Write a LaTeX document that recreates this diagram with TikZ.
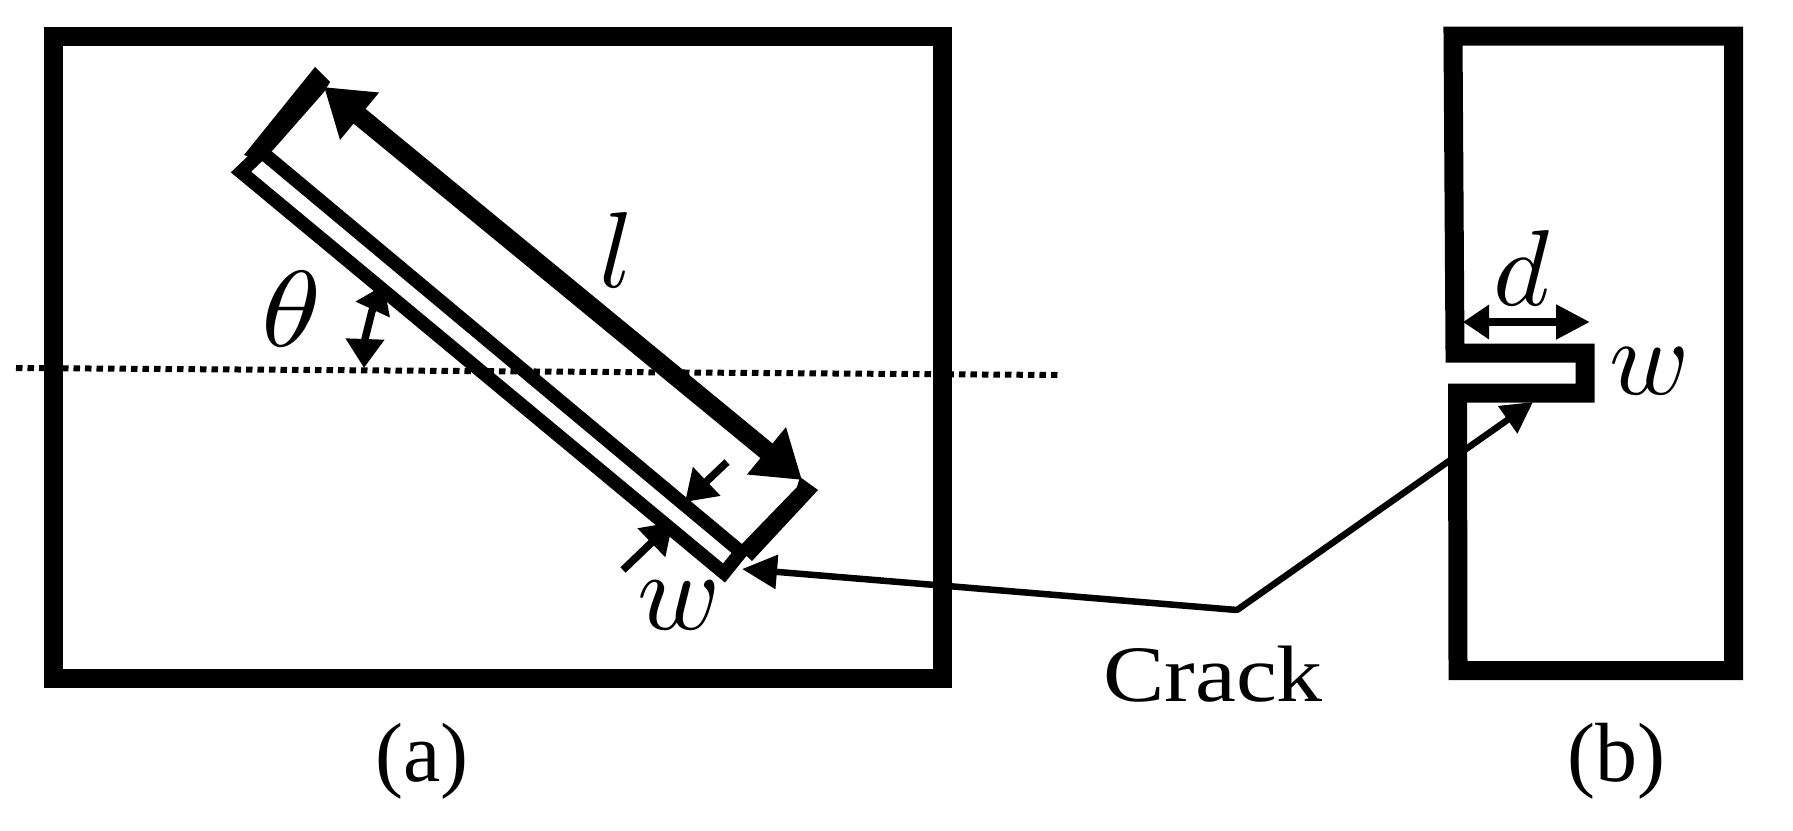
\documentclass[tikz,border=0pt]{standalone}
\usepackage{fontspec}
\setmainfont{Liberation Serif}
\usetikzlibrary{arrows.meta}
\tikzset{
  frame/.style={draw=black,line width=19pt,miter limit=10,line join=miter},
  slit/.style={draw=black,line width=13.5pt,line join=miter,miter limit=10},
  endcap/.style={fill=black,draw=none},
  lenarrow/.style={draw=black,line width=19pt,{Triangle[length=46pt,width=58pt]}-{Triangle[length=46pt,width=58pt]}},
  thetaarrow/.style={draw=black,line width=7.5pt,{Triangle[length=29pt,width=37pt]}-{Triangle[length=27pt,width=36pt]}},
  darrow/.style={draw=black,line width=8pt,{Triangle[length=26pt,width=33pt]}-{Triangle[length=34pt,width=33pt]}},
  warrow/.style={draw=black,line width=7.5pt,-{Triangle[length=30pt,width=38pt]}},
  leader/.style={draw=black,line width=6.5pt,line join=round,{Triangle[length=35pt,width=33pt]}-{Triangle[length=31pt,width=32pt]}},
  axisline/.style={draw=black,line width=6pt,dash pattern=on 6.5pt off 5pt},
  mathlabel/.style={inner sep=0pt,scale=10.8},
  widelabel/.style={inner sep=0pt,scale=11.2},
  textlabel/.style={inner sep=0pt,scale=8.4}
}
\begin{document}
\begin{tikzpicture}[x=1pt,y=-1pt]
\useasboundingbox (0,0) rectangle (1793,830);
% panel (a)
\path[frame] (53,36) rectangle (942,678);
\coordinate (axisL) at (16,368);
\coordinate (axisR) at (1058,375);
\path[axisline] (axisL) -- (axisR);
\path[slit] (262,152) -- (241,172) -- (724,573) -- (741,552) -- cycle;
\path[endcap] (315,67) -- (330,82) -- (324,92) -- (273,150) -- (258,160) -- (244,155) -- cycle;
\path[endcap] (800,477) -- (818,490) -- (752,561) -- (738,548) -- (797,487) -- cycle;
\coordinate (lA) at (324,87);
\coordinate (lB) at (802,480);
\path[lenarrow] (lA) -- (lB);
\coordinate (thA) at (364,368);
\coordinate (thM) at (365,339);
\coordinate (thN) at (372,311);
\coordinate (thB) at (384,285);
\path[thetaarrow] (thA) -- (thM) -- (thN) -- (thB);
\coordinate (wAs) at (727,462);
\coordinate (wAe) at (685,502);
\path[warrow] (wAs) -- (wAe);
\coordinate (wBs) at (623,570);
\coordinate (wBe) at (673,522);
\path[warrow] (wBs) -- (wBe);
\node[mathlabel] (lbl) at (617,250) {$l$};
\node[mathlabel,xscale=1.12] (thetalbl) at (292,309) {$\theta$};
\node[widelabel] (wa) at (679,605) {$w$};
\node[textlabel] (a) at (422,761) {(a)};
% panel (b)
\path[frame] (1453,36) -- (1733.5,36) -- (1733.5,670.5) -- (1458,670.5) -- (1457.5,393) -- (1585,393) -- (1585,353) -- (1455,353) -- cycle;
\coordinate (dA) at (1463,322);
\coordinate (dB) at (1590,322);
\path[darrow] (dA) -- (dB);
\node[mathlabel] (dlbl) at (1522,268) {$d$};
\node[mathlabel] (wb) at (1650,371) {$w$};
% crack leader
\coordinate (cA) at (742,569);
\coordinate (knee) at (1237,610);
\coordinate (cB) at (1533,402);
\path[leader] (cA) -- (knee) -- (cB);
\node[inner sep=0pt,scale=8,xscale=1.15] (crack) at (1213,674) {Crack};
\node[textlabel] (b) at (1616,761) {(b)};
\end{tikzpicture}
\end{document}
